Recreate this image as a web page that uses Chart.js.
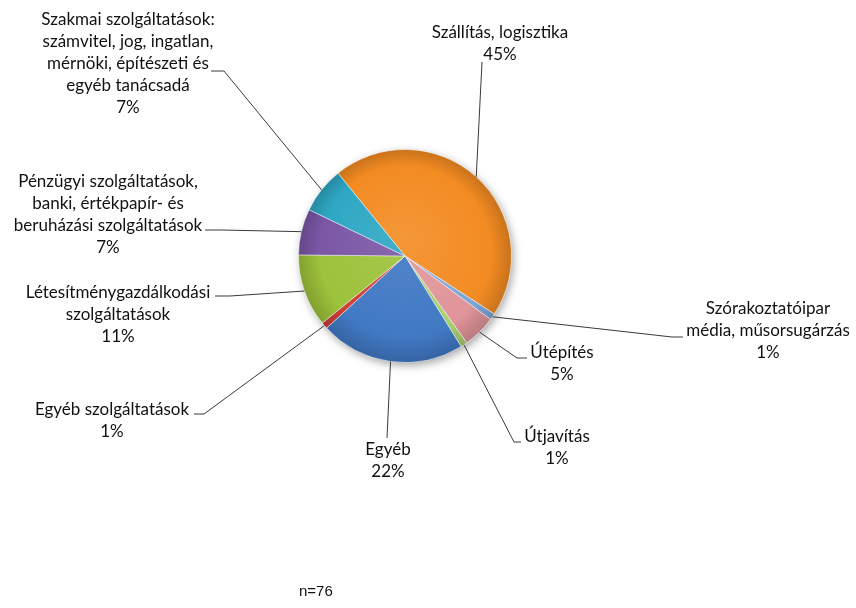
<!DOCTYPE html>
<html>
<head>
<meta charset="utf-8">
<script src="https://cdn.jsdelivr.net/npm/chart.js@4.4.1/dist/chart.umd.min.js"></script>
<style>
html, body { margin: 0; background: #fff; }
#wrap { width: 856px; height: 608px; position: relative; }
#note { position: absolute; left: 299px; top: 582px; font: 15px "Liberation Sans", Arial, sans-serif; color: #111; }
</style>
</head>
<body>
<div id="wrap">
<canvas id="chart" width="856" height="608"></canvas>
<div id="note">n=76</div>
</div>
<script>
// slices clockwise, starting at the top-right (orange)
const categories = [
    'Szállítás, logisztika',
    'Szórakoztatóipar média, műsorsugárzás',
    'Útépítés',
    'Útjavítás',
    'Egyéb',
    'Egyéb szolgáltatások',
    'Létesítménygazdálkodási szolgáltatások',
    'Pénzügyi szolgáltatások, banki, értékpapír- és beruházási szolgáltatások',
    'Szakmai szolgáltatások: számvitel, jog, ingatlan, mérnöki, építészeti és egyéb tanácsadá'
];
const labelLines = [
    ['Szállítás, logisztika'],
    ['Szórakoztatóipar', 'média, műsorsugárzás'],
    ['Útépítés'],
    ['Útjavítás'],
    ['Egyéb'],
    ['Egyéb szolgáltatások'],
    ['Létesítménygazdálkodási', 'szolgáltatások'],
    ['Pénzügyi szolgáltatások,', 'banki, értékpapír- és', 'beruházási szolgáltatások'],
    ['Szakmai szolgáltatások:', 'számvitel, jog, ingatlan,', 'mérnöki, építészeti és', 'egyéb tanácsadá']
];
const percents = [45, 1, 5, 1, 22, 1, 11, 7, 7];
const colors = ['#F38B22', '#7FA6D6', '#E0959A', '#A9CF6E', '#4179C4', '#CC4038', '#9DC23B', '#7B57A6', '#2EA7C4'];

// where each label sits: first line centre, leader elbow, leader end at the text
const labelPos = [
    { x: 500, y: 33, elbow: [482, 62] },
    { x: 768, y: 309, elbow: [672, 337], end: [683, 337] },
    { x: 562, y: 353, elbow: [517, 358], end: [527, 358] },
    { x: 557, y: 437, elbow: [514, 442], end: [521, 442] },
    { x: 388, y: 450, elbow: [387, 438] },
    { x: 112, y: 410, elbow: [204, 414], end: [194, 414] },
    { x: 118, y: 293, elbow: [230, 296], end: [215, 296] },
    { x: 108, y: 182, elbow: [222, 230], end: [205, 230] },
    { x: 128, y: 20, elbow: [224, 71], end: [211, 71] }
];
const lineH = 22;

function shade(hex, amt) {
    const n = parseInt(hex.slice(1), 16);
    let r = n >> 16, g = (n >> 8) & 255, b = n & 255;
    const f = v => Math.max(0, Math.min(255, Math.round(amt > 0 ? v + (255 - v) * amt : v * (1 + amt))));
    return `rgb(${f(r)},${f(g)},${f(b)})`;
}

function sliceFill(c) {
    const base = colors[c.dataIndex];
    const area = c.chart.chartArea;
    if (!area) return base;
    const cx = (area.left + area.right) / 2, cy = (area.top + area.bottom) / 2;
    const r = Math.min(area.right - area.left, area.bottom - area.top) / 2;
    const g = c.chart.ctx.createRadialGradient(cx, cy - r * 0.2, 0, cx, cy, r);
    g.addColorStop(0, shade(base, 0.1));
    g.addColorStop(0.8, base);
    g.addColorStop(1, shade(base, -0.18));
    return g;
}

const pieShadow = {
    id: 'pieShadow',
    beforeDatasetsDraw(chart) {
        const arc = chart.getDatasetMeta(0).data[0];
        if (!arc) return;
        const ctx = chart.ctx;
        ctx.save();
        ctx.shadowColor = 'rgba(0,0,0,0.35)';
        ctx.shadowBlur = 8;
        ctx.shadowOffsetX = 2;
        ctx.shadowOffsetY = 3;
        ctx.fillStyle = '#fff';
        ctx.beginPath();
        ctx.arc(arc.x, arc.y, arc.outerRadius, 0, Math.PI * 2);
        ctx.fill();
        ctx.restore();
    }
};

const leaderLabels = {
    id: 'leaderLabels',
    afterDatasetsDraw(chart) {
        const ctx = chart.ctx;
        const meta = chart.getDatasetMeta(0);
        ctx.save();
        ctx.font = '17px Lato';
        ctx.fillStyle = '#111';
        ctx.textAlign = 'center';
        ctx.textBaseline = 'middle';
        ctx.strokeStyle = '#3a3a3a';
        ctx.lineWidth = 1;
        meta.data.forEach((arc, i) => {
            const p = labelPos[i];
            const mid = (arc.startAngle + arc.endAngle) / 2;
            const ax = arc.x + Math.cos(mid) * arc.outerRadius;
            const ay = arc.y + Math.sin(mid) * arc.outerRadius;
            ctx.beginPath();
            ctx.moveTo(ax, ay);
            ctx.lineTo(p.elbow[0], p.elbow[1]);
            if (p.end) ctx.lineTo(p.end[0], p.end[1]);
            ctx.stroke();
            const lines = [...labelLines[i], percents[i] + '%'];
            lines.forEach((t, k) => ctx.fillText(t, p.x, p.y + k * lineH));
        });
        ctx.restore();
    }
};

new Chart(document.getElementById('chart'), {
    type: 'pie',
    data: {
        labels: categories,
        datasets: [{
            data: percents,
            backgroundColor: sliceFill,
            borderColor: 'rgba(255,255,255,0.45)',
            borderWidth: 1
        }]
    },
    options: {
        responsive: false,
        animation: false,
        rotation: -39,
        layout: { padding: { left: 298, right: 344, top: 149, bottom: 245 } },
        plugins: { legend: { display: false }, tooltip: { enabled: false } }
    },
    plugins: [pieShadow, leaderLabels]
});
</script>
</body>
</html>
